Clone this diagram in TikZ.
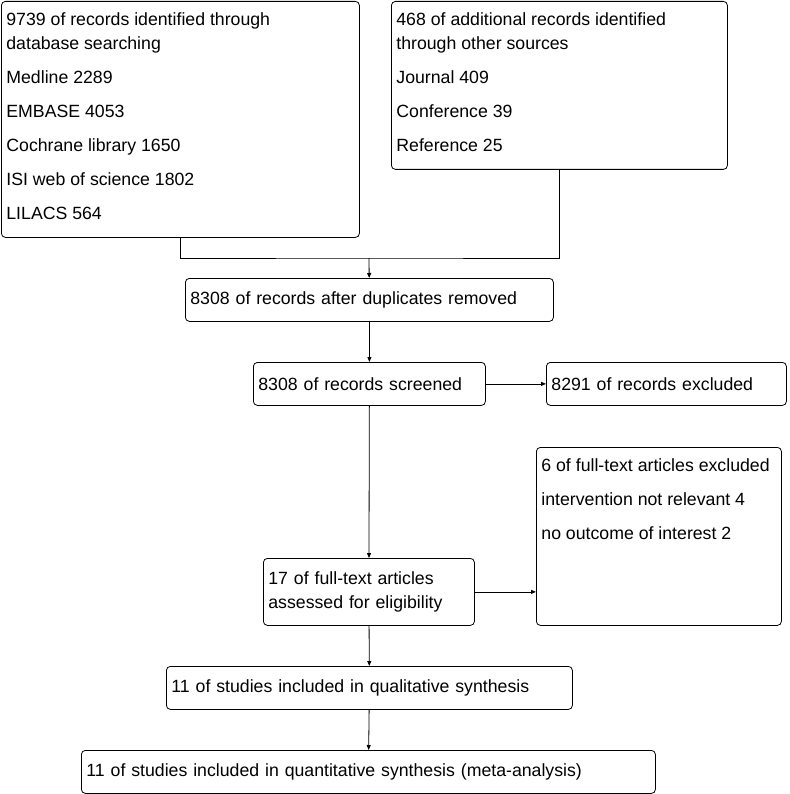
\documentclass[tikz,border=0pt]{standalone}
\usepackage{fontspec}
\setmainfont[Ligatures=NoCommon]{Liberation Sans}
\usetikzlibrary{arrows.meta,positioning}

% text block pinned to the top of a box of given height
\newcommand{\toptext}[3]{\parbox[c][#2][t]{#1}{\rule{0pt}{24pt}#3}}

\begin{document}
\begin{tikzpicture}[
    x=1pt, y=-1pt,
    font=\fontsize{17.7}{24}\selectfont,
    box/.style={draw, rounded corners=4pt, line width=0.8pt, anchor=north west,
        inner xsep=5pt, inner ysep=0pt, align=left},
    arr/.style={-{Triangle[length=5pt,width=4pt]}, line width=0.8pt},
    link/.style={line width=0.8pt}
]
\useasboundingbox (0,0) rectangle (789,794);

% Identification
\node[box] (db) at (1,1) {\toptext{348pt}{236pt}{9739 of records identified through\\database searching\\[10pt]Medline 2289\\[10pt]EMBASE 4053\\[10pt]Cochrane library 1650\\[10pt]ISI web of science 1802\\[10pt]LILACS 564}};
\node[box] (other) at (391,1) {\toptext{326pt}{168pt}{468 of additional records identified\\through other sources\\[10pt]Journal 409\\[10pt]Conference 39\\[10pt]Reference 25}};

% Screening
\node[box, text width=358pt, minimum height=43pt] (dup) at (185,278) {8308 of records after duplicates removed};
\node[box, text width=222pt, minimum height=43pt] (screen) at (253,362) {8308 of records screened};
\node[box, text width=230pt, minimum height=43pt] (excl) at (546,362) {8291 of records excluded};

% Eligibility
\node[box, text width=201pt, minimum height=67pt] (full) at (263,558) {17 of full-text articles\\assessed for eligibility};
\node[box] (fullexcl) at (536,447) {\toptext{235pt}{178pt}{6 of full-text articles excluded\\[10pt]intervention not relevant 4\\[10pt]no outcome of interest 2}};

% Included
\node[box, text width=396pt, minimum height=43pt] (qual) at (166,666) {11 of studies included in qualitative synthesis};
\node[box, text width=564pt, minimum height=43pt] (quant) at (81,750) {11 of studies included in quantitative synthesis (meta-analysis)};

% Connections
\coordinate (join) at (369,258);
\draw[link] (db.south) |- (join) -| (other.south);
\draw[arr] (join) -- (dup);
\draw[arr] (dup) -- (screen);
\draw[arr] (screen) -- (excl);
\draw[arr] (screen) -- (full);
\draw[arr] (full.east) -- (full.east -| fullexcl.west);
\draw[arr] (full) -- (qual);
\draw[arr] (qual) -- (quant);

\end{tikzpicture}
\end{document}
